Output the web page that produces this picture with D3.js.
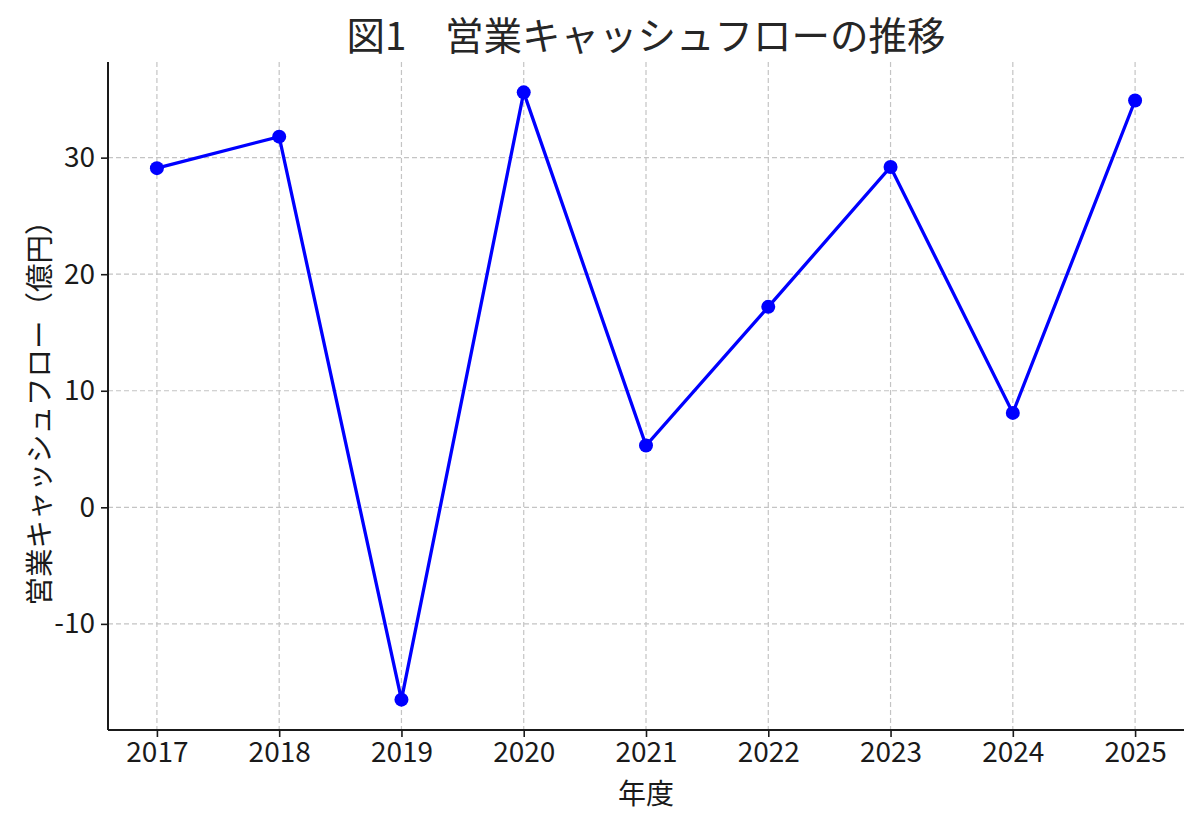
<!DOCTYPE html>
<html><head><meta charset="utf-8">
<script src="https://cdn.jsdelivr.net/npm/d3@7"></script>
<style>body{margin:0;background:#fff;}svg{display:block;font-family:"Noto Sans CJK JP","Noto Sans",sans-serif;}</style>
</head><body><svg id="c" width="1200" height="826"></svg>
<script>
const years = [2017, 2018, 2019, 2020, 2021, 2022, 2023, 2024, 2025];
const cashflow = [29.1, 31.8, -16.5, 35.6, 5.3, 17.2, 29.2, 8.1, 34.9];
const yTicks = [-10, 0, 10, 20, 30];
const titleText = "図1　営業キャッシュフローの推移";
const xLabel = "年度";
const yLabel = "営業キャッシュフロー（億円）";

const svg = d3.select("#c");
const m = {l:108, r:1184, t:62, b:730};
const x = d3.scaleLinear().domain([2016.6, 2025.4]).range([m.l, m.r]);
const ymin = d3.min(cashflow), ymax = d3.max(cashflow), pad = (ymax-ymin)*0.05;
const y = d3.scaleLinear().domain([ymin-pad, ymax+pad]).range([m.b, m.t]);

// grid
const g = svg.append("g");
g.selectAll("line.gx").data(years).join("line")
  .attr("x1", d=>x(d)).attr("x2", d=>x(d)).attr("y1", m.t).attr("y2", m.b)
  .attr("stroke","#c4c4c4").attr("stroke-width",1.2).attr("stroke-dasharray","5,3");
g.selectAll("line.gy").data(yTicks).join("line")
  .attr("x1", m.l).attr("x2", m.r).attr("y1", d=>y(d)).attr("y2", d=>y(d))
  .attr("stroke","#c4c4c4").attr("stroke-width",1.2).attr("stroke-dasharray","5,3");

// axes
const xa = svg.append("g").attr("transform",`translate(0,${m.b})`)
  .call(d3.axisBottom(x).tickValues(years).tickFormat(d3.format("d")).tickSizeOuter(0).tickSize(7).tickPadding(5));
const ya = svg.append("g").attr("transform",`translate(${m.l},0)`)
  .call(d3.axisLeft(y).tickValues(yTicks).tickFormat(d=>d<0?"-"+Math.abs(d):d).tickSizeOuter(0).tickSize(7).tickPadding(6));
[xa, ya].forEach(a=>{
  a.select(".domain").attr("stroke","#1a1a1a").attr("stroke-width",2);
  a.selectAll(".tick line").attr("stroke","#1a1a1a").attr("stroke-width",1.6);
  a.selectAll(".tick text").attr("fill","#1a1a1a").attr("font-size",28)
   .attr("font-family",'"Noto Sans CJK JP",sans-serif');
});
ya.select(".domain").attr("d",`M0,${m.t}V${m.b}`);
xa.select(".domain").attr("d",`M${m.l},0H${m.r}`);

// line
svg.append("path").datum(cashflow.map((v,i)=>[years[i],v]))
  .attr("fill","none").attr("stroke","#0000ff").attr("stroke-width",3.3)
  .attr("d", d3.line().x(d=>x(d[0])).y(d=>y(d[1])));
svg.selectAll("circle.pt").data(cashflow).join("circle")
  .attr("cx",(d,i)=>x(years[i])).attr("cy",d=>y(d)).attr("r",7).attr("fill","#0000ff");

// title & labels
svg.append("text").attr("x",(m.l+m.r)/2).attr("y",50).attr("text-anchor","middle")
  .attr("font-size",38.5).attr("fill","#262626").text(titleText);
svg.append("text").attr("x",(m.l+m.r)/2).attr("y",804).attr("text-anchor","middle")
  .attr("font-size",28).attr("fill","#1a1a1a").text(xLabel);
svg.append("text").attr("transform",`translate(50,${(m.t+m.b)/2+10}) rotate(-90)`).attr("text-anchor","middle")
  .attr("font-size",28.5).attr("fill","#1a1a1a").text(yLabel);
</script></body></html>
